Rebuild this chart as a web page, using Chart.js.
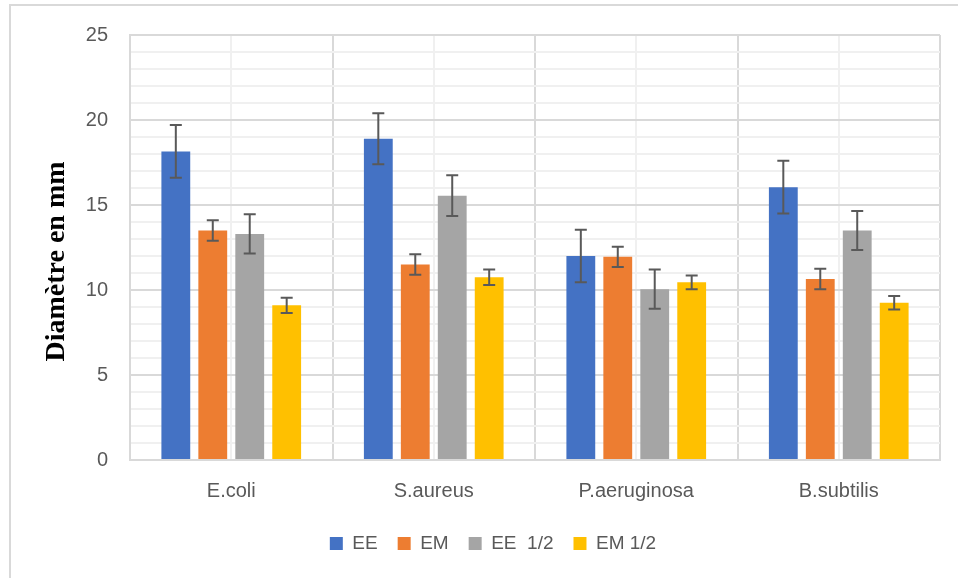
<!DOCTYPE html>
<html>
<head>
<meta charset="utf-8">
<script src="https://cdn.jsdelivr.net/npm/chart.js@4/dist/chart.umd.min.js"></script>
<style>
  html, body { margin: 0; padding: 0; background: #fff; overflow: hidden; }
  #frame { position: absolute; left: 9px; top: 4px; width: 1000px; height: 700px;
           border-top: 2px solid #d9d9d9; border-left: 2px solid #d9d9d9; }
  #wrap { position: absolute; left: 0; top: 0; width: 958px; height: 578px; }
</style>
</head>
<body>
<div id="frame"></div>
<div id="wrap"><canvas id="chart" width="958" height="578"></canvas></div>
<script>
// categories and series
const categories = ['E.coli', 'S.aureus', 'P.aeruginosa', 'B.subtilis'];
const seriesNames = ['EE', 'EM', 'EE  1/2', 'EM 1/2'];

// mean diameter (mm)
const eeValues  = [18.15, 18.9, 12.0, 16.05];
const emValues  = [13.5, 11.5, 11.95, 10.65];
const ee2Values = [13.3, 15.55, 10.05, 13.5];
const em2Values = [9.1, 10.75, 10.45, 9.25];

// error bars (+/-)
const eeErrors  = [1.55, 1.5, 1.55, 1.55];
const emErrors  = [0.6, 0.6, 0.6, 0.6];
const ee2Errors = [1.15, 1.2, 1.15, 1.15];
const em2Errors = [0.45, 0.45, 0.4, 0.4];

// y axis
const yMin = 0, yMax = 25, yMajor = 5, yMinor = 1;

const colors = ['#4472C4', '#ED7D31', '#A5A5A5', '#FFC000'];
const values = [eeValues, emValues, ee2Values, em2Values];
const errors = [eeErrors, emErrors, ee2Errors, em2Errors];

const errorBars = {
    id: 'errorBars',
    afterDatasetsDraw(chart) {
        const { ctx } = chart;
        const y = chart.scales.y;
        ctx.save();
        ctx.strokeStyle = '#595959';
        ctx.lineWidth = 2;
        chart.data.datasets.forEach((ds, i) => {
            chart.getDatasetMeta(i).data.forEach((bar, j) => {
                const top = y.getPixelForValue(ds.data[j] + ds.errors[j]);
                const bot = y.getPixelForValue(ds.data[j] - ds.errors[j]);
                const x = bar.x, w = 6;
                ctx.beginPath();
                ctx.moveTo(x, top); ctx.lineTo(x, bot);
                ctx.moveTo(x - w, top); ctx.lineTo(x + w, top);
                ctx.moveTo(x - w, bot); ctx.lineTo(x + w, bot);
                ctx.stroke();
            });
        });
        ctx.restore();
    }
};

// legend sits a bit right of and closer to the plot in the original
const legendShift = {
    id: 'legendShift',
    afterLayout(chart) {
        chart.legend.left += 18;
        chart.legend.right += 18;
        chart.legend.top -= 8;
        chart.legend.bottom -= 8;
    }
};

new Chart(document.getElementById('chart'), {
    type: 'bar',
    data: {
        labels: categories,
        datasets: seriesNames.map((name, i) => ({
            label: name,
            data: values[i],
            errors: errors[i],
            backgroundColor: colors[i],
            categoryPercentage: 0.73,
            barPercentage: 0.78,
        })),
    },
    options: {
        responsive: false,
        animation: false,
        layout: { padding: { left: 10, right: 18, top: 35, bottom: 7 } },
        plugins: {
            tooltip: { enabled: false },
            legend: {
                position: 'bottom',
                labels: {
                    color: '#595959',
                    font: { family: 'Liberation Sans', size: 19 },
                    boxWidth: 13,
                    boxHeight: 13,
                    padding: 20,
                },
            },
        },
        scales: {
            x: {
                offset: true,
                grid: { offset: true, color: '#d9d9d9', lineWidth: 2, drawTicks: false },
                border: { color: '#d9d9d9', width: 2 },
                ticks: { color: '#595959', font: { family: 'Liberation Sans', size: 20 }, padding: 19 },
            },
            x2: {
                type: 'category',
                labels: categories,
                position: 'bottom',
                offset: true,
                grid: { offset: false, color: '#f0f0f0', lineWidth: 2, drawTicks: false },
                border: { display: false },
                ticks: { display: false },
                afterFit: axis => { axis.height = 0; },
            },
            y: {
                min: yMin,
                max: yMax,
                afterFit: axis => { axis.width = 120; },
                ticks: {
                    stepSize: yMinor,
                    autoSkip: false,
                    color: '#595959',
                    font: { family: 'Liberation Sans', size: 20 },
                    padding: 22,
                    callback: v => (v % yMajor === 0 ? String(v) : ''),
                },
                grid: {
                    drawTicks: false,
                    lineWidth: 2,
                    color: c => (c.tick.value % yMajor === 0 ? '#d9d9d9' : '#f0f0f0'),
                },
                border: { color: '#d9d9d9', width: 2 },
                title: {
                    display: true,
                    text: 'Diamètre en mm    ',
                    color: '#000',
                    font: { family: 'Liberation Serif', size: 28, weight: 'bold', lineHeight: 1.2 },
                    padding: { top: 30, bottom: 0 },
                },
            },
        },
    },
    plugins: [errorBars, legendShift],
});
</script>
</body>
</html>
